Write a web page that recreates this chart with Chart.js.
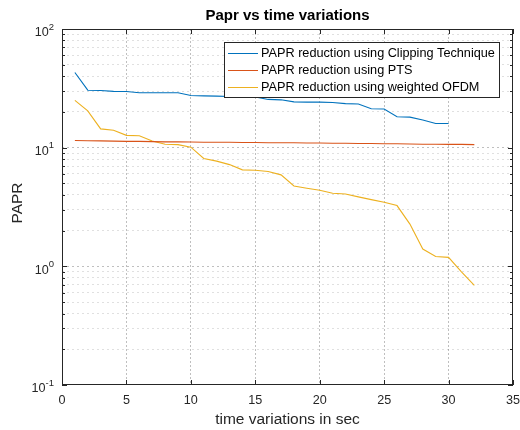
<!DOCTYPE html>
<html>
<head>
<meta charset="utf-8">
<script src="https://cdn.jsdelivr.net/npm/chart.js@4"></script>
<style>
  body { margin: 0; background: #fff; }
  canvas { display: block; }
</style>
</head>
<body>
<canvas id="paprChart" width="520" height="430"></canvas>
<script>
const timeSec = [1, 2, 3, 4, 5, 6, 7, 8, 9, 10, 11, 12, 13, 14, 15, 16,
                 17, 18, 19, 20, 21, 22, 23, 24, 25, 26, 27, 28, 29, 30, 31, 32];
const clipping = [43, 30.5, 30.3, 29.8, 29.7, 29, 29, 29, 29, 27.5, 27.3, 27.2, 27, 27, 26.8,
                  25.5, 25.3, 24.3, 24.2, 24.2, 24, 23.5, 23.3, 21.3, 21.2, 18.2, 18.1, 17.1, 16, 16];
const pts = [11.5, 11.45, 11.4, 11.35, 11.3, 11.3, 11.25, 11.2, 11.2, 11.15, 11.1, 11.1, 11.1,
             11.05, 11.05, 11.0, 11.0, 11.0, 10.95, 10.95, 10.9, 10.9, 10.85, 10.85, 10.8, 10.8,
             10.75, 10.7, 10.7, 10.65, 10.65, 10.6];
const weighted = [25, 20.4, 14.4, 14.0, 12.7, 12.6, 11.4, 10.7, 10.6, 10.1, 8.1, 7.7, 7.2, 6.5,
                  6.45, 6.3, 5.9, 4.75, 4.55, 4.38, 4.13, 4.07, 3.85, 3.65, 3.47, 3.25, 2.27,
                  1.40, 1.21, 1.19, 0.90, 0.69];
const seriesLabels = ['PAPR reduction using Clipping Technique', 'PAPR reduction using PTS',
                      'PAPR reduction using weighted OFDM'];
const xTicks = [0, 5, 10, 15, 20, 25, 30, 35];
const yDecades = [0.1, 1, 10, 100];
const yDecadeLabels = ['-1', '0', '1', '2'];

const colors = ['#0072BD', '#D95319', '#EDB120'];
const axisColor = '#262626';
const font = 'Liberation Sans, Arial, sans-serif';

function toPoints(values) {
    return values.map((v, i) => ({ x: timeSec[i], y: v }));
}

// all log ticks: decades plus 2..9 minors
function logTicks() {
    const ticks = [];
    yDecades.forEach((d, i) => {
        ticks.push({ value: d, major: true });
        if (i < yDecades.length - 1) {
            for (let k = 2; k <= 9; k++) ticks.push({ value: d * k, major: false });
        }
    });
    return ticks;
}

const matlabFrame = {
    id: 'matlabFrame',
    afterDraw(chart) {
        const { ctx, chartArea: a, scales: { x, y } } = chart;
        ctx.save();
        ctx.strokeStyle = axisColor;
        ctx.lineWidth = 1;

        // inward tick marks
        ctx.beginPath();
        xTicks.forEach(t => {
            const px = Math.round(x.getPixelForValue(t)) + 0.5;
            ctx.moveTo(px, a.bottom); ctx.lineTo(px, a.bottom - 5);
            ctx.moveTo(px, a.top); ctx.lineTo(px, a.top + 5);
        });
        logTicks().forEach(t => {
            const py = Math.round(y.getPixelForValue(t.value)) + 0.5;
            const len = t.major ? 5 : 3;
            ctx.moveTo(a.left, py); ctx.lineTo(a.left + len, py);
            ctx.moveTo(a.right, py); ctx.lineTo(a.right - len, py);
        });
        ctx.stroke();

        // box
        ctx.strokeRect(a.left + 0.5, a.top + 0.5, a.right - a.left - 1, a.bottom - a.top - 1);

        // y tick labels 10^n
        ctx.fillStyle = axisColor;
        ctx.textBaseline = 'middle';
        yDecades.forEach((d, i) => {
            const py = y.getPixelForValue(d);
            ctx.font = '9.5px ' + font;
            const exp = yDecadeLabels[i];
            const ew = ctx.measureText(exp).width;
            ctx.textAlign = 'left';
            const right = a.left - 8;
            ctx.fillText(exp, right - ew, py - 2);
            ctx.font = '12.6px ' + font;
            ctx.textAlign = 'right';
            ctx.fillText('10', right - ew, py + 4);
        });

        // titles
        ctx.textAlign = 'center';
        ctx.fillStyle = '#000';
        ctx.font = 'bold 15px ' + font;
        ctx.fillText('Papr vs time variations', (a.left + a.right) / 2, 16);
        ctx.fillStyle = axisColor;
        ctx.font = '15.5px ' + font;
        ctx.fillText('time variations in sec', (a.left + a.right) / 2, 420);
        ctx.save();
        ctx.translate(18, 203);
        ctx.rotate(-Math.PI / 2);
        ctx.fillText('PAPR', 0, 0);
        ctx.restore();

        // legend box
        const lx = 224, ly = 42, lw = 275, lh = 55;
        ctx.fillStyle = '#fff';
        ctx.fillRect(lx, ly, lw, lh);
        ctx.strokeStyle = axisColor;
        ctx.strokeRect(lx + 0.5, ly + 0.5, lw, lh);
        ctx.font = '12.7px ' + font;
        ctx.textAlign = 'left';
        chart.data.datasets.forEach((ds, i) => {
            const ry = ly + 11 + i * 17;
            ctx.strokeStyle = ds.borderColor;
            ctx.beginPath();
            ctx.moveTo(lx + 4, ry + 0.5); ctx.lineTo(lx + 34, ry + 0.5);
            ctx.stroke();
            ctx.fillStyle = '#000';
            ctx.fillText(ds.label, lx + 37, ry);
        });
        ctx.restore();
    }
};

new Chart(document.getElementById('paprChart'), {
    type: 'line',
    data: {
        datasets: [clipping, pts, weighted].map((vals, i) => ({
            label: seriesLabels[i],
            data: toPoints(vals),
            borderColor: colors[i],
            backgroundColor: colors[i],
            borderWidth: 1.1,
            pointRadius: 0,
            tension: 0
        }))
    },
    options: {
        responsive: false,
        animation: false,
        layout: { padding: { top: 29, right: 7, left: 0, bottom: 0 } },
        plugins: { legend: { display: false }, title: { display: false }, tooltip: { enabled: false } },
        scales: {
            x: {
                type: 'linear',
                min: 0,
                max: 35,
                afterBuildTicks: s => { s.ticks = xTicks.map(v => ({ value: v })); },
                afterFit: s => { s.height = 45; s.paddingLeft = 0; s.paddingRight = 0; },
                ticks: { color: axisColor, font: { size: 12.6, family: font }, padding: 8, maxRotation: 0 },
                grid: {
                    drawTicks: false,
                    color: c => (c.tick && (c.tick.value === 0 || c.tick.value === 35)) ? 'rgba(0,0,0,0)' : 'rgba(0,0,0,0.25)'
                },
                border: { display: false, dash: [2, 2] }
            },
            y: {
                type: 'logarithmic',
                min: 0.1,
                max: 100,
                afterBuildTicks: s => { s.ticks = logTicks(); },
                afterFit: s => { s.width = 62; s.paddingTop = 0; s.paddingBottom = 0; },
                ticks: { display: false, autoSkip: false },
                grid: {
                    drawTicks: false,
                    color: c => {
                        if (!c.tick) return 'rgba(0,0,0,0)';
                        if (c.tick.value === 0.1 || c.tick.value === 100) return 'rgba(0,0,0,0)';
                        return c.tick.major ? 'rgba(0,0,0,0.25)' : 'rgba(0,0,0,0.12)';
                    }
                },
                border: { display: false, dash: [2, 3] }
            }
        }
    },
    plugins: [matlabFrame]
});
</script>
</body>
</html>
